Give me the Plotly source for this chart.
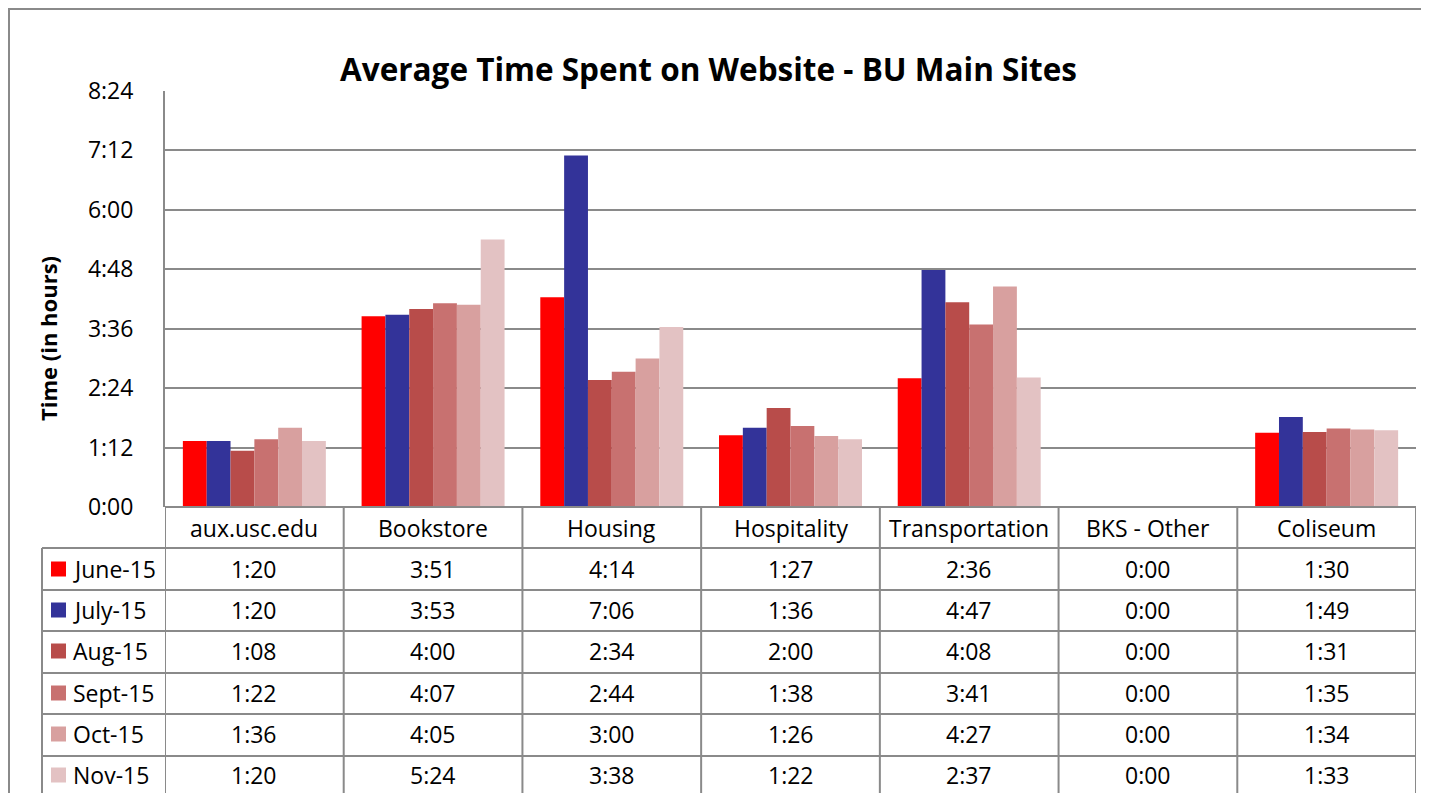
import plotly.graph_objects as go

categories = ["aux.usc.edu", "Bookstore", "Housing", "Hospitality", "Transportation", "BKS - Other", "Coliseum"]
series_names = ["June-15", "July-15", "Aug-15", "Sept-15", "Oct-15", "Nov-15"]
june = ["1:20", "3:51", "4:14", "1:27", "2:36", "0:00", "1:30"]
july = ["1:20", "3:53", "7:06", "1:36", "4:47", "0:00", "1:49"]
aug = ["1:08", "4:00", "2:34", "2:00", "4:08", "0:00", "1:31"]
sept = ["1:22", "4:07", "2:44", "1:38", "3:41", "0:00", "1:35"]
octo = ["1:36", "4:05", "3:00", "1:26", "4:27", "0:00", "1:34"]
nov = ["1:20", "5:24", "3:38", "1:22", "2:37", "0:00", "1:33"]
series_text = [june, july, aug, sept, octo, nov]
colors = ["#FF0000", "#333399", "#B84C4A", "#C87170", "#D8A09F", "#E3C2C3"]
ytick_labels = ["0:00", "1:12", "2:24", "3:36", "4:48", "6:00", "7:12", "8:24"]

W, H = 1429, 793
OFF = 8  # page body margin
def px(x): return (x - OFF) / W
def py(y): return 1 - (y - OFF) / H

def to_num(s):
    h, m = s.split(":")
    return int(h) * 60 + int(m)

FONT = "Open Sans"
GRID = "#8a8a8a"
TS = 23

fig = go.Figure()
for name, vals, c in zip(series_names, series_text, colors):
    fig.add_trace(go.Bar(x=categories, y=[to_num(v) for v in vals], name=name,
                         marker=dict(color=c, line=dict(width=0))))

x0, x1 = 165, 1416
ytop, ybot = 91, 507
fig.update_layout(
    template="none",
    width=W, height=H, margin=dict(l=0, r=0, t=0, b=0, pad=0, autoexpand=False),
    paper_bgcolor="white", plot_bgcolor="white",
    barmode="group", bargap=0.2, bargroupgap=0,
    showlegend=False,
    font=dict(family=FONT, color="black"),
    xaxis=dict(domain=[px(x0), px(x1)], range=[-0.5, 6.5], showticklabels=False, automargin=False,
               showline=False, showgrid=False, zeroline=False, fixedrange=True, ticks=""),
    yaxis=dict(domain=[py(ybot), py(ytop)], range=[0, 504], automargin=False,
               tickvals=[i * 72 for i in range(len(ytick_labels))], ticktext=ytick_labels,
               tickfont=dict(size=TS, family=FONT), ticks="", ticklabelstandoff=25,
               showgrid=True, gridcolor=GRID, gridwidth=2,
               showline=True, linecolor=GRID, linewidth=2, zeroline=False),
)

shapes = []
shapes.append(dict(type="rect", xref="paper", yref="paper", x0=px(9), x1=px(1426), y0=py(810), y1=py(9),
                   line=dict(color=GRID, width=2), fillcolor="rgba(0,0,0,0)", layer="below"))
row_lines = [507, 548, 590, 631, 673, 714, 756]
for i, yl in enumerate(row_lines):
    xs = px(x0) if i == 0 else px(42)
    shapes.append(dict(type="line", xref="paper", yref="paper", x0=xs, x1=px(x1), y0=py(yl), y1=py(yl),
                       line=dict(color=GRID, width=2)))
for k in range(len(categories) + 1):
    shapes.append(dict(type="line", xref="x", yref="paper", x0=k - 0.5, x1=k - 0.5, y0=py(507), y1=py(810),
                       line=dict(color=GRID, width=2)))
shapes.append(dict(type="line", xref="paper", yref="paper", x0=px(42), x1=px(42), y0=py(548), y1=py(810),
                   line=dict(color=GRID, width=2)))

annotations = []
annotations.append(dict(text="<b>Average Time Spent on Website - BU Main Sites</b>", xref="paper", yref="paper",
                        x=px(708), y=py(68), showarrow=False, font=dict(size=31.5, family=FONT),
                        xanchor="center", yanchor="middle"))
annotations.append(dict(text="<b>Time (in hours)</b>", xref="paper", yref="paper", x=px(48), y=py(339),
                        showarrow=False, textangle=-90, font=dict(size=22, family=FONT),
                        xanchor="center", yanchor="middle"))
for cat in categories:
    annotations.append(dict(text=cat, xref="x", yref="paper", x=cat, y=py(528), showarrow=False,
                            font=dict(size=TS, family=FONT), xanchor="center", yanchor="middle"))
row_centers = [569, 610, 651, 693, 734, 775]
for name, vals, c, yc in zip(series_names, series_text, colors, row_centers):
    shapes.append(dict(type="rect", xref="paper", yref="paper", x0=px(51), x1=px(66), y0=py(yc + 7.5), y1=py(yc - 7.5),
                       fillcolor=c, line=dict(width=0)))
    annotations.append(dict(text=name, xref="paper", yref="paper", x=px(71), y=py(yc), showarrow=False,
                            font=dict(size=TS, family=FONT), xanchor="left", yanchor="middle"))
    for cat, v in zip(categories, vals):
        annotations.append(dict(text=v, xref="x", yref="paper", x=cat, y=py(yc), showarrow=False,
                                font=dict(size=TS, family=FONT), xanchor="center", yanchor="middle"))

fig.update_layout(shapes=shapes, annotations=annotations)
fig.write_html("out.html")
